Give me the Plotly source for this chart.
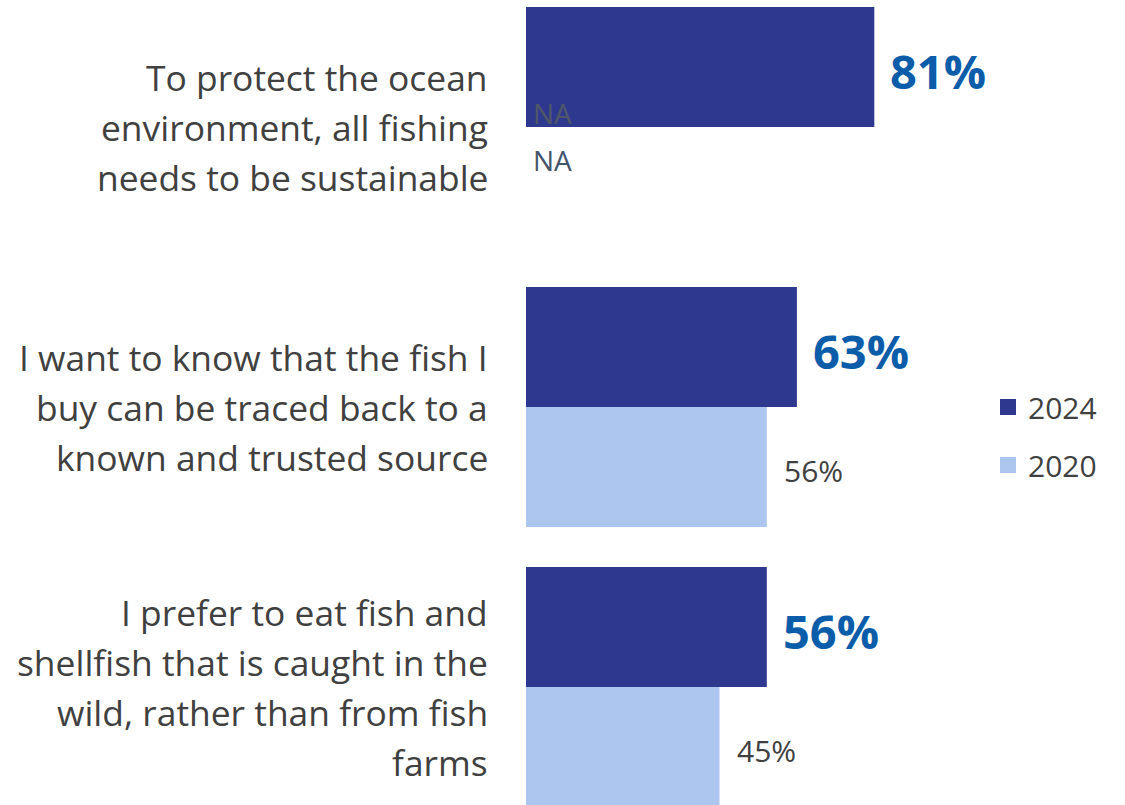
import plotly.graph_objects as go

# Survey statements (one list of lines per statement)
statements = [
    ["To protect the ocean", "environment, all fishing", "needs to be sustainable"],
    ["I want to know that the fish I", "buy can be traced back to a", "known and trusted source"],
    ["I prefer to eat fish and", "shellfish that is caught in the", "wild, rather than from fish", "farms"],
]
categories = ["Ocean sustainability", "Traceability", "Wild-caught preference"]
share_2024 = [81, 63, 56]
share_2020 = [None, 56, 45]
series_names = ["2024", "2020"]

NAVY = "#2E388E"
LIGHT = "#ADC6EF"
LABEL_BLUE = "#0B5DAA"
GREY = "#404040"
SLATE = "#44546A"
FONT = "Open Sans"

PX_PER_UNIT = 4.30      # horizontal scale, pixels per percentage point
LEFT = 526
WIDTH, HEIGHT = 1125, 805
CAT_PX = 280            # pixels per category band
TOP_CENTER = 127        # pixel row of the first category centre

fig = go.Figure()
fig.add_trace(go.Bar(y=categories, x=share_2024, orientation="h", name=series_names[0],
                     marker=dict(color=NAVY, line=dict(width=0)), showlegend=False))
fig.add_trace(go.Bar(y=categories, x=share_2020, orientation="h", name=series_names[1],
                     marker=dict(color=LIGHT, line=dict(width=0)), showlegend=False))

# legend entries with larger square swatches
for nm, col in zip(series_names, [NAVY, LIGHT]):
    fig.add_trace(go.Scatter(x=[None], y=[None], mode="markers", name=nm, legendgroup=nm,
                             marker=dict(symbol="square", size=16, color=col)))

x_max = (WIDTH - LEFT) / PX_PER_UNIT
y_top = 0 - TOP_CENTER / CAT_PX
y_bot = (len(categories) - 1) + (HEIGHT - (TOP_CENTER + CAT_PX * (len(categories) - 1))) / CAT_PX

half = 0.5 * (1 - 1 / 7) / 2  # offset of each bar centre within its group

annotations = []
# statement text, right-aligned beside the bars
for ci, lines in enumerate(statements):
    n = len(lines)
    for li, line in enumerate(lines):
        annotations.append(dict(
            xref="paper", yref="y", x=0, y=ci, xanchor="right", yanchor="middle",
            xshift=-36, yshift=((n - 1) / 2 - li) * 50, text=line, showarrow=False,
            font=dict(family=FONT, size=35.4, color=GREY)))

# value labels
for ci, (v24, v20) in enumerate(zip(share_2024, share_2020)):
    annotations.append(dict(
        xref="x", yref="y", x=v24, y=ci - half, xanchor="left", yanchor="middle",
        xshift=14, yshift=-4, text=f"<b>{v24}%</b>", showarrow=False,
        font=dict(family=FONT, size=47, color=LABEL_BLUE)))
    if v20 is None:
        annotations.append(dict(
            xref="x", yref="y", x=0, y=ci - half, xanchor="left", yanchor="middle",
            xshift=5, yshift=-46, text="NA", showarrow=False,
            font=dict(family=FONT, size=28, color="#4F5868")))
        annotations.append(dict(
            xref="x", yref="y", x=0, y=ci + half, xanchor="left", yanchor="middle",
            xshift=5, yshift=27, text="NA", showarrow=False,
            font=dict(family=FONT, size=28, color=SLATE)))
    else:
        annotations.append(dict(
            xref="x", yref="y", x=v20, y=ci + half, xanchor="left", yanchor="middle",
            xshift=15, yshift=-3, text=f"{v20}%", showarrow=False,
            font=dict(family=FONT, size=30, color=GREY)))

fig.update_layout(
    width=WIDTH, height=HEIGHT,
    margin=dict(l=LEFT, r=0, t=0, b=0),
    paper_bgcolor="white", plot_bgcolor="white",
    barmode="group", bargap=1 / 7, bargroupgap=0,
    xaxis=dict(range=[0, x_max], visible=False, fixedrange=True),
    yaxis=dict(type="category", categoryorder="array", categoryarray=categories,
               range=[y_bot, y_top], showticklabels=False, showgrid=False,
               zeroline=False, showline=False, ticks=""),
    showlegend=True,
    legend=dict(x=(988 - LEFT) / (WIDTH - LEFT), y=(HEIGHT - 381) / HEIGHT,
                xanchor="left", yanchor="top", traceorder="grouped",
                tracegroupgap=16, itemwidth=30, bgcolor="rgba(0,0,0,0)",
                font=dict(family=FONT, size=30, color=GREY)),
    annotations=annotations,
)

fig.write_html("out.html")
